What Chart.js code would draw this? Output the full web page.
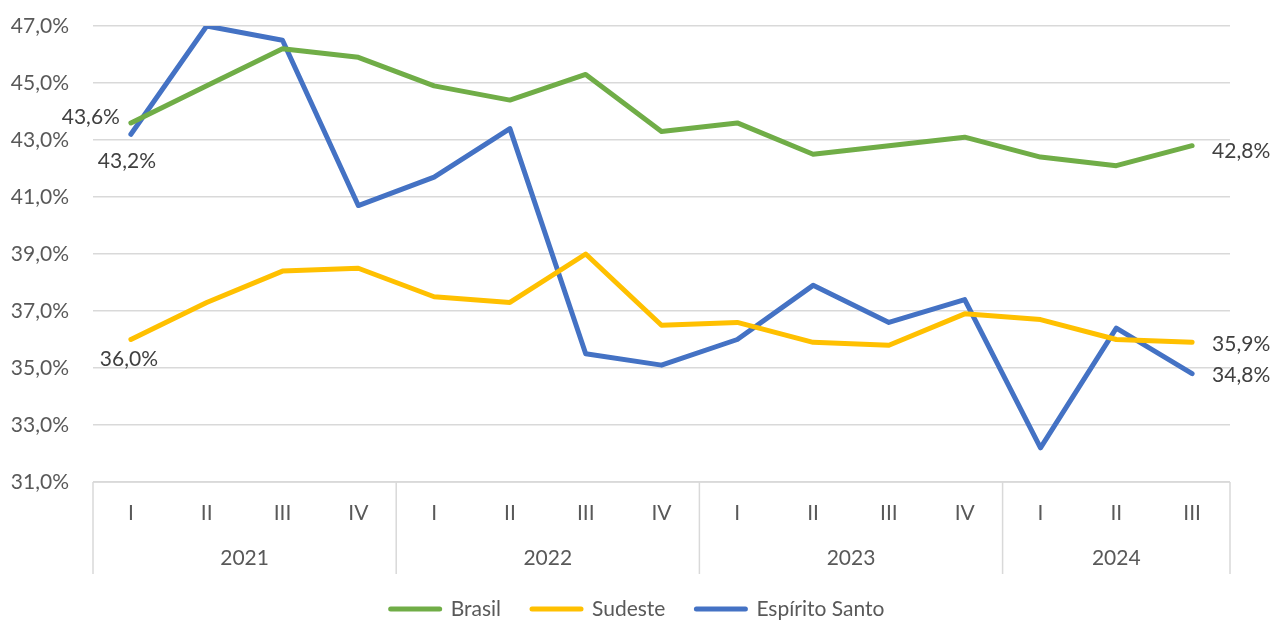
<!DOCTYPE html>
<html lang="pt-BR">
<head>
  <meta charset="UTF-8">
  <title>Brasil, Sudeste e Espírito Santo</title>
  <script src="https://cdn.jsdelivr.net/npm/chart.js"></script>
  <style>
    body {
      margin: 0;
      background: #fff;
    }
    #wrap {
      width: 1272px;
      height: 622px;
    }
  </style>
</head>
<body>
  <div id="wrap"><canvas id="chart"></canvas></div>

  <script>
    const quarters = ['I', 'II', 'III', 'IV', 'I', 'II', 'III', 'IV', 'I', 'II', 'III', 'IV', 'I', 'II', 'III'];
    const years = ['2021', '2022', '2023', '2024'];
    const yearSizes = [4, 4, 4, 3];

    const brasil = [43.6, 44.9, 46.2, 45.9, 44.9, 44.4, 45.3, 43.3, 43.6, 42.5, 42.8, 43.1, 42.4, 42.1, 42.8];
    const sudeste = [36.0, 37.3, 38.4, 38.5, 37.5, 37.3, 39.0, 36.5, 36.6, 35.9, 35.8, 36.9, 36.7, 36.0, 35.9];
    const espiritoSanto = [43.2, 47.0, 46.5, 40.7, 41.7, 43.4, 35.5, 35.1, 36.0, 37.9, 36.6, 37.4, 32.2, 36.4, 34.8];

    const FONT = "Lato, 'Open Sans', sans-serif";
    const TEXT = '#595959';
    const GRID = '#d9d9d9';

    const fmt = v => v.toFixed(1).replace('.', ',') + '%';

    // labels shown only at the first and last points, as in the original
    // [datasetIndex, pointIndex, dx, dy, align]
    const valueLabels = [
      [0, 0, -11, -6, 'right'],
      [2, 0, -4, 27, 'center'],
      [1, 0, -2, 20, 'center'],
      [0, 14, 20, 6, 'left'],
      [1, 14, 20, 2, 'left'],
      [2, 14, 20, 2, 'left']
    ];

    const axisBox = {
      id: 'axisBox',
      afterDraw(chart) {
        const { ctx, chartArea } = chart;
        const x = chart.scales.x;
        const bottom = chartArea.bottom;
        const step = x.getPixelForValue(1) - x.getPixelForValue(0);
        const boxBottom = bottom + 92;

        ctx.save();
        ctx.strokeStyle = GRID;
        ctx.lineWidth = 1.5;
        ctx.beginPath();
        ctx.moveTo(chartArea.left, bottom);
        ctx.lineTo(chartArea.right, bottom);

        // year separators
        let idx = 0;
        const edges = [x.getPixelForValue(0) - step / 2];
        yearSizes.forEach(n => {
          idx += n;
          edges.push(x.getPixelForValue(idx - 1) + step / 2);
        });
        edges.forEach(px => {
          ctx.moveTo(px, bottom);
          ctx.lineTo(px, boxBottom);
        });
        ctx.stroke();

        ctx.fillStyle = TEXT;
        ctx.font = '21px ' + FONT;
        ctx.textAlign = 'center';
        ctx.textBaseline = 'middle';
        quarters.forEach((q, i) => {
          ctx.fillText(q, x.getPixelForValue(i), bottom + 31);
        });
        years.forEach((y, i) => {
          ctx.fillText(y, (edges[i] + edges[i + 1]) / 2, bottom + 76);
        });

        // value labels
        ctx.fillStyle = '#404040';
        valueLabels.forEach(([d, p, dx, dy, align]) => {
          const pt = chart.getDatasetMeta(d).data[p];
          const v = chart.data.datasets[d].data[p];
          ctx.textAlign = align;
          ctx.fillText(fmt(v), pt.x + dx, pt.y + dy);
        });

        // legend
        const sets = chart.data.datasets;
        const lineW = 55, gap = 8, spacing = 28;
        const widths = sets.map(ds => ctx.measureText(ds.label).width);
        const total = widths.reduce((a, w) => a + lineW + gap + w, 0) + spacing * (sets.length - 1);
        let lx = chart.width / 2 - total / 2;
        const ly = 609;
        ctx.textAlign = 'left';
        ctx.fillStyle = TEXT;
        ctx.lineCap = 'round';
        ctx.lineWidth = 5;
        sets.forEach((ds, i) => {
          ctx.strokeStyle = ds.borderColor;
          ctx.beginPath();
          ctx.moveTo(lx + 3, ly);
          ctx.lineTo(lx + lineW - 3, ly);
          ctx.stroke();
          lx += lineW + gap;
          ctx.fillText(ds.label, lx, ly);
          lx += widths[i] + spacing;
        });
        ctx.restore();
      }
    };

    const line = (label, data, color) => ({
      label,
      data,
      borderColor: color,
      backgroundColor: color,
      borderWidth: 5,
      pointRadius: 0,
      pointHoverRadius: 0,
      borderCapStyle: 'round',
      borderJoinStyle: 'round',
      tension: 0
    });

    const ctx = document.getElementById('chart').getContext('2d');
    const myChart = new Chart(ctx, {
      type: 'line',
      data: {
        labels: quarters.map((q, i) => q + i),
        datasets: [
          line('Brasil', brasil, '#70ad47'),
          line('Sudeste', sudeste, '#ffc000'),
          line('Espírito Santo', espiritoSanto, '#4472c4')
        ]
      },
      options: {
        responsive: true,
        maintainAspectRatio: false,
        animation: false,
        layout: {
          padding: { top: 26, right: 42, left: 0, bottom: 0 }
        },
        plugins: {
          legend: { display: false },
          tooltip: { enabled: false }
        },
        scales: {
          x: {
            type: 'category',
            offset: true,
            grid: { display: false },
            border: { display: false },
            ticks: { display: false },
            afterFit(scale) { scale.height = 140; }
          },
          y: {
            min: 31,
            max: 47,
            ticks: {
              stepSize: 2,
              padding: 0,
              color: TEXT,
              font: { family: FONT, size: 21 },
              callback: v => fmt(v)
            },
            grid: {
              color: GRID,
              lineWidth: 1.5,
              drawTicks: true,
              tickLength: 24,
              tickColor: 'rgba(0,0,0,0)'
            },
            border: { display: false },
            afterFit(scale) { scale.width = 93; }
          }
        }
      },
      plugins: [axisBox]
    });
  </script>
</body>
</html>
